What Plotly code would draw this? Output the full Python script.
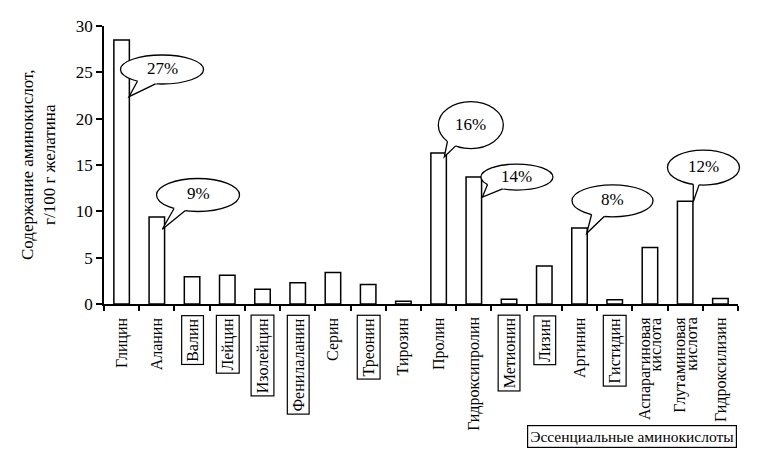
import math
import plotly.graph_objects as go

# ---------------- data ----------------
categories = ["Глицин", "Аланин", "Валин", "Лейцин", "Изолейцин", "Фенилаланин",
              "Серин", "Треонин", "Тирозин", "Пролин", "Гидроксипролин", "Метионин",
              "Лизин", "Аргинин", "Гистидин", "Аспарагиновая<br>кислота",
              "Глутаминовая<br>кислота", "Гидроксилизин"]
values = [28.5, 9.4, 2.95, 3.1, 1.6, 2.3, 3.4, 2.1, 0.3, 16.3, 13.7, 0.5,
          4.1, 8.2, 0.45, 6.1, 11.1, 0.6]
essential = ["Валин", "Лейцин", "Изолейцин", "Фенилаланин", "Треонин",
             "Метионин", "Лизин", "Гистидин"]
callout_bars = ["Глицин", "Аланин", "Пролин", "Гидроксипролин", "Аргинин",
                "Глутаминовая<br>кислота"]
callout_labels = ["27%", "9%", "16%", "14%", "8%", "12%"]
y_ticks = [0, 5, 10, 15, 20, 25, 30]
y_title = "Содержание аминокислот,<br>г/100 г желатина"
legend_box = "Эссенциальные аминокислоты"

# ---------------- layout geometry ----------------
W, H = 767, 458
L, R, T, B = 104, 29, 26, 154
PW, PH = W - L - R, H - T - B
YMAX = 30
N = len(categories)
FONT = "Liberation Serif"

# callout geometry (pixel offsets from bar top centre):
# ellipse centre (dx,dy), size (w,h), tip (dx,dy), edge1, edge2
callout_geom = [
    ((40.4, 29.6), (83, 29), (7.4, 56.8), (17.4, 38.4), (30.1, 45.8)),
    ((41.2, -21.9), (83, 33), (5.5, 12.4), (18.2, -10.2), (29.9, -7.6)),
    ((32.2, -27.9), (65, 47), (5.7, 3.8), (8.1, -7.9), (19.7, -9.6)),
    ((43.1, 0.0), (72, 26), (8.6, 20.0), (13.1, 9.0), (26.1, 13.0)),
    ((33.0, -27.2), (81, 32), (7.2, 5.3), (11.5, -11.3), (23.8, -10.7)),
    ((18.3, -33.6), (72, 35), (8.1, 0.6), (8.1, -16.8), (14.1, -16.8)),
]


def xp(px):
    return (px - L) / PW


def yp(py):
    return (T + PH - py) / PH


fig = go.Figure()
fig.add_trace(go.Bar(
    x=categories, y=values,
    marker=dict(color="white", line=dict(color="black", width=1.5)),
    hoverinfo="x+y",
))

shapes = []
annotations = []

for name, label, geom in zip(callout_bars, callout_labels, callout_geom):
    i = categories.index(name)
    v = values[i]
    cx = L + (i + 0.5) * PW / N
    top = T + PH - v / YMAX * PH
    (cdx, cdy), (ew, eh), (tdx, tdy), e1, e2 = geom
    ex, ey = cx + cdx, top + cdy
    a, b = ew / 2, eh / 2
    tx, ty = cx + tdx, top + tdy
    hits, inners = [], []
    for (edx, edy) in (e1, e2):
        px_, py_ = cx + edx, top + edy
        dx, dy = px_ - tx, py_ - ty
        A = (dx / a) ** 2 + (dy / b) ** 2
        Bq = 2 * ((tx - ex) * dx / a ** 2 + (ty - ey) * dy / b ** 2)
        C = ((tx - ex) / a) ** 2 + ((ty - ey) / b) ** 2 - 1
        disc = Bq * Bq - 4 * A * C
        if disc >= 0:
            t1 = (-Bq - math.sqrt(disc)) / (2 * A)
        else:
            t1 = 1.0
        ln = math.hypot(dx, dy)
        hits.append((tx + t1 * dx, ty + t1 * dy))
        t2 = t1 + 6 / ln
        inners.append((tx + t2 * dx, ty + t2 * dy))
    shapes.append(dict(type="circle", xref="paper", yref="paper",
                       x0=xp(ex - a), x1=xp(ex + a), y0=yp(ey + b), y1=yp(ey - b),
                       fillcolor="white", line=dict(color="black", width=1.3)))
    fill_path = "M {},{} L {},{} L {},{} Z".format(
        xp(inners[0][0]), yp(inners[0][1]), xp(tx), yp(ty),
        xp(inners[1][0]), yp(inners[1][1]))
    shapes.append(dict(type="path", xref="paper", yref="paper", path=fill_path,
                       fillcolor="white", line=dict(width=0)))
    line_path = "M {},{} L {},{} L {},{}".format(
        xp(hits[0][0]), yp(hits[0][1]), xp(tx), yp(ty),
        xp(hits[1][0]), yp(hits[1][1]))
    shapes.append(dict(type="path", xref="paper", yref="paper", path=line_path,
                       line=dict(color="black", width=1.3)))
    annotations.append(dict(x=xp(ex), y=yp(ey - 1), xref="paper", yref="paper",
                            text=label, showarrow=False,
                            font=dict(family=FONT, size=17, color="black"),
                            xanchor="center", yanchor="middle"))

# category labels (rotated, essential ones boxed)
label_top = yp(T + PH + 11)
line_gap = 11
for i, cat in enumerate(categories):
    parts = cat.split("<br>")
    k = len(parts)
    for j, part in enumerate(parts):
        shift = (j - (k - 1) / 2) * line_gap
        boxed = cat in essential
        annotations.append(dict(
            x=cat, xref="x", y=label_top, yref="paper", text=part,
            showarrow=False, textangle=-90, xanchor="center", yanchor="top",
            xshift=shift, font=dict(family=FONT, size=16, color="black"),
            borderpad=2, borderwidth=1.2 if boxed else 0,
            bordercolor="black" if boxed else "rgba(0,0,0,0)"))

# y-axis title
annotations.append(dict(x=xp(38), y=0.5, xref="paper", yref="paper",
                        text=y_title, showarrow=False, textangle=-90,
                        xanchor="center", yanchor="middle",
                        font=dict(family=FONT, size=17, color="black")))

# essential amino acids box
annotations.append(dict(x=xp(632), y=yp(436.5), xref="paper", yref="paper",
                        text=legend_box, showarrow=False,
                        xanchor="center", yanchor="middle",
                        font=dict(family=FONT, size=15.5, color="black"),
                        bordercolor="black", borderwidth=1.2, borderpad=2))

fig.update_layout(
    width=W, height=H,
    margin=dict(l=L, r=R, t=T, b=B),
    paper_bgcolor="white", plot_bgcolor="white",
    showlegend=False, bargap=0.56,
    font=dict(family=FONT, color="black"),
    shapes=shapes, annotations=annotations,
    xaxis=dict(type="category", range=[-0.5, N - 0.5], showticklabels=False,
               ticks="outside", tickson="boundaries", ticklen=5, tickwidth=1.5,
               tickcolor="black", showline=True, linecolor="black", linewidth=1.5,
               showgrid=False, zeroline=False, fixedrange=True),
    yaxis=dict(range=[0, YMAX], tickvals=y_ticks, ticks="outside", ticklen=6,
               tickwidth=1.5, tickcolor="black", showline=True, linecolor="black",
               linewidth=1.5, showgrid=False, zeroline=False,
               tickfont=dict(family=FONT, size=17, color="black"), fixedrange=True),
)

fig.write_html("out.html", config={"displayModeBar": False},
               post_script="document.body.style.margin='0';document.body.style.overflow='hidden';")
